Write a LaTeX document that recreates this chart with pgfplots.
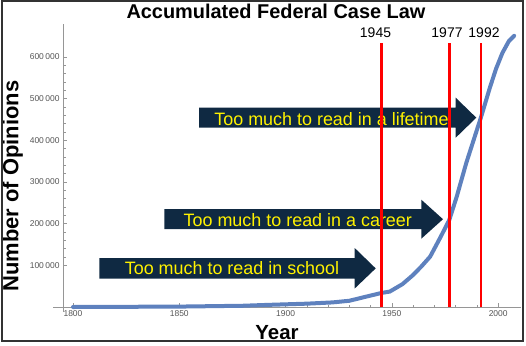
\documentclass[border=0pt]{standalone}
\usepackage{pgfplots}
\pgfplotsset{compat=1.18}
\usepackage{fontspec}
\setmainfont{Liberation Sans}
\definecolor{navy}{RGB}{15,41,66}
\definecolor{curveblue}{RGB}{94,129,190}
\definecolor{axgray}{RGB}{150,150,150}
\definecolor{lblgray}{RGB}{85,85,85}
\begin{document}
\begin{tikzpicture}[x=1bp,y=1bp]
\useasboundingbox (0,0) rectangle (526,345);
% arrows
\fill[navy] (99.3,87) -- (354.7,87) -- (354.7,97) -- (375.7,76.6) -- (354.7,56.5) -- (354.7,66.3) -- (99.3,66.3) -- cycle;
\fill[navy] (164.3,136) -- (421.3,136) -- (421.3,145.3) -- (443,125.8) -- (421.3,106.3) -- (421.3,116) -- (164.3,116) -- cycle;
\fill[navy] (199,237.3) -- (455.7,237.3) -- (455.7,247.3) -- (476.3,227.3) -- (455.7,207.3) -- (455.7,217.3) -- (199,217.3) -- cycle;
\node[anchor=base, inner sep=0pt, text=yellow, font=\fontsize{18}{20}\selectfont] at (232,70.3) {Too much to read in school};
\node[anchor=base, inner sep=0pt, text=yellow, font=\fontsize{18}{20}\selectfont] at (297.8,118.7) {Too much to read in a career};
\node[anchor=base, inner sep=0pt, text=yellow, font=\fontsize{18}{20}\selectfont] at (331.5,220) {Too much to read in a lifetime};
\begin{axis}[
  at={(63bp,38bp)}, anchor=south west,
  scale only axis, width=457.5bp, height=283.3bp,
  xmin=1795.3, xmax=2010.5, ymin=0, ymax=680000,
  axis lines=left,
  x axis line style={-, axgray, line width=0.6bp, shorten <=-10bp},
  y axis line style={-, axgray, line width=0.6bp, shorten <=-5bp},
  xtick={1800,1850,1900,1950,2000},
  ytick={100000,200000,300000,400000,500000,600000},
  minor x tick num=4, minor y tick num=4,
  tick align=inside,
  major tick length=4bp, minor tick length=2.5bp,
  tick style={axgray, line width=0.5bp},
  scaled y ticks=false, scaled x ticks=false,
  /pgf/number format/assume math mode=true,
  /pgf/number format/fixed,
  tick label style={font=\fontsize{8.5}{10}\selectfont, text=lblgray},
  xticklabel style={/pgf/number format/1000 sep={}},
  yticklabel style={/pgf/number format/1000 sep={\,}},
  clip=false,
]
\addplot[curveblue, line width=4bp, line join=round, line cap=round] coordinates {
(1800,0) (1850,1000) (1880,3000) (1891,5000) (1910,8000) (1922,11000)
(1930,15000) (1938,25000) (1945,33600) (1949,37000) (1955,55000)
(1960,77000) (1964,98000) (1968,121000) (1973,169000) (1977,209000)
(1980.5,265000) (1985,346000) (1992,457000) (1996,525000) (1999,572000)
(2002,610000) (2005,638000) (2007.5,651000)
};
\addplot[red, line width=2.5bp] coordinates {(1945,0) (1945,633000)};
\addplot[red, line width=2.5bp] coordinates {(1977,0) (1977,633000)};
\addplot[red, line width=2.5bp] coordinates {(1992,0) (1992,633000)};
\end{axis}
\node[anchor=base, inner sep=0pt, font=\fontsize{14}{16}\selectfont] at (375.5,307.3) {1945};
\node[anchor=base, inner sep=0pt, font=\fontsize{14}{16}\selectfont] at (447,307.3) {1977};
\node[anchor=base, inner sep=0pt, font=\fontsize{14}{16}\selectfont] at (484,307.3) {1992};
\node[anchor=base, inner sep=0pt, font=\fontsize{20}{22}\selectfont\bfseries] at (276,326.7) {Accumulated Federal Case Law};
\node[anchor=base, inner sep=0pt, rotate=90, font=\fontsize{22}{24}\selectfont\bfseries] at (18.3,159) {Number of Opinions};
\node[anchor=base, inner sep=0pt, font=\fontsize{20.5}{22}\selectfont\bfseries] at (277,5.3) {Year};
\draw[black!80, line width=2bp] (1.7,4) rectangle (522.7,344);
\end{tikzpicture}
\end{document}
